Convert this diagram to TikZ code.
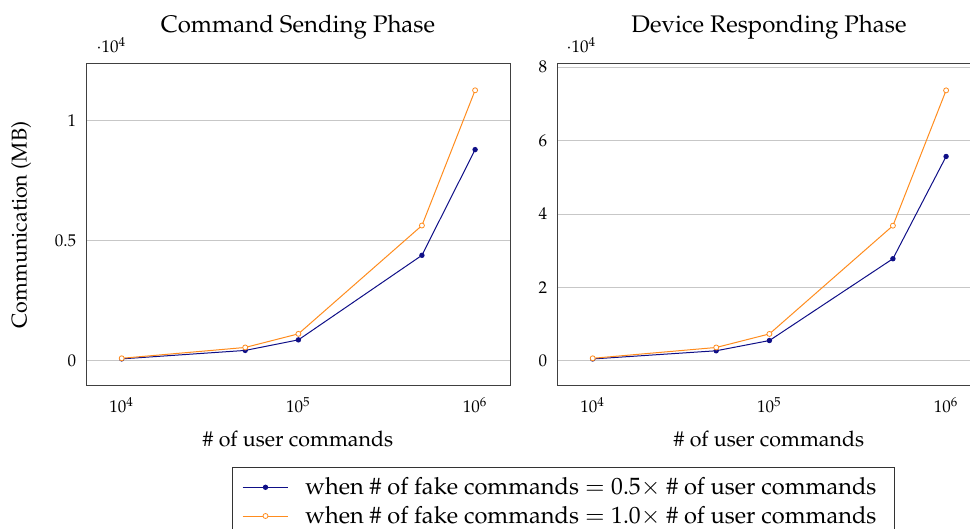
\documentclass[tikz,border=0pt]{standalone}
\usepackage[T1]{fontenc}
\usepackage{mathpazo}
\usepackage{xcolor}
\usepackage{tikz}
\usetikzlibrary{positioning,calc}
\definecolor{navyline}{RGB}{15,15,135}
\definecolor{orangeline}{RGB}{255,140,30}

\begin{document}
\begin{tikzpicture}[x=0.5pt,y=-0.5pt,
    frame/.style={draw=black!75,line width=0.6pt},
    gridln/.style={black!22,line width=0.5pt},
    tick/.style={font=\fontsize{8.5}{10}\selectfont,inner sep=1pt},
    ttl/.style={font=\fontsize{12}{14}\selectfont,inner sep=0pt},
    lbl/.style={font=\fontsize{10.7}{13}\selectfont,inner sep=0pt},
    leg/.style={font=\fontsize{11.8}{14}\selectfont,inner sep=0pt},
    halfser/.style={navyline,line width=0.5pt},
    fullser/.style={orangeline,line width=0.5pt},
    halfdot/.style={circle,fill=navyline,inner sep=0pt,minimum size=2.7pt},
    fulldot/.style={circle,draw=orangeline,fill=white,line width=0.4pt,inner sep=0pt,minimum size=2.5pt}]
\useasboundingbox (0,0) rectangle (970,529);
% titles and axis labels
\node[ttl,anchor=base] (tsend) at (298,32.3) {Command Sending Phase};
\node[ttl,anchor=base] (tresp) at (769,32.3) {Device Responding Phase};
\node[lbl,anchor=base] (xsend) at (298,446.7) {\# of user commands};
\node[lbl,anchor=base] (xresp) at (769,446.7) {\# of user commands};
\node[lbl,rotate=90] (ylab) at (21,225) {Communication (MB)};
\node[tick,anchor=base west] (msend) at (94,53) {$\cdot 10^{4}$};
\node[tick,anchor=base west] (mresp) at (564,53) {$\cdot 10^{4}$};
% left plot: command sending
\begin{scope}[shift={(121.7,361)},x=88.35pt,y=120.1pt]
  \foreach \v/\t in {0/0,0.5/0.5,1/1} {
    \draw[gridln] (-0.2,\v) -- (2.2,\v);
    \node[tick,anchor=east] (sy\t) at (-0.245,\v) {\t};
  }
  \foreach \e [count=\k from 0] in {4,5,6}
    \node[tick,anchor=base] (sx\e) at (\k,-0.216) {$10^{\e}$};
  \foreach \i/\lx/\hv/\fv in {1/0/0.0088/0.0113,2/0.699/0.044/0.0564,3/1/0.088/0.113,4/1.699/0.44/0.564,5/2/0.88/1.127} {
    \coordinate (sh\i) at (\lx,\hv);
    \coordinate (sf\i) at (\lx,\fv);
  }
  \draw[frame] (-0.2,-0.1034) rectangle (2.2,1.2388);
  \draw[halfser] (sh1) -- (sh2) -- (sh3) -- (sh4) -- (sh5);
  \foreach \i in {1,...,5} \node[halfdot] (shm\i) at (sh\i) {};
  \draw[fullser] (sf1) -- (sf2) -- (sf3) -- (sf4) -- (sf5);
  \foreach \i in {1,...,5} \node[fulldot] (sfm\i) at (sf\i) {};
\end{scope}
% right plot: device responding
\begin{scope}[shift={(592.7,361)},x=88.35pt,y=18.36pt]
  \foreach \v in {0,2,4,6,8} {
    \draw[gridln] (-0.2,\v) -- (2.2,\v);
    \node[tick,anchor=east] (ry\v) at (-0.245,\v) {\v};
  }
  \foreach \e [count=\k from 0] in {4,5,6}
    \node[tick,anchor=base] (rx\e) at (\k,-1.415) {$10^{\e}$};
  \foreach \i/\lx/\hv/\fv in {1/0/0.0557/0.0737,2/0.699/0.2785/0.3685,3/1/0.557/0.737,4/1.699/2.785/3.685,5/2/5.57/7.37} {
    \coordinate (rh\i) at (\lx,\hv);
    \coordinate (rf\i) at (\lx,\fv);
  }
  \draw[frame] (-0.2,-0.676) rectangle (2.2,8.10);
  \draw[halfser] (rh1) -- (rh2) -- (rh3) -- (rh4) -- (rh5);
  \foreach \i in {1,...,5} \node[halfdot] (rhm\i) at (rh\i) {};
  \draw[fullser] (rf1) -- (rf2) -- (rf3) -- (rf4) -- (rf5);
  \foreach \i in {1,...,5} \node[fulldot] (rfm\i) at (rf\i) {};
\end{scope}
% legend
\draw[draw=black!80,line width=0.5pt] (232.7,467.7) rectangle (894.3,540);
\coordinate (lh0) at (242.7,487.3);
\coordinate (lh1) at (288.3,487.3);
\coordinate (lf0) at (242.7,516);
\coordinate (lf1) at (288.3,516);
\draw[halfser] (lh0) -- (lh1);
\node[halfdot] (lhm) at ($(lh0)!0.5!(lh1)$) {};
\draw[fullser] (lf0) -- (lf1);
\node[fulldot] (lfm) at ($(lf0)!0.5!(lf1)$) {};
\node[leg,anchor=west] (lht) at (305,487.3) {when \# of fake commands $= 0.5\times$ \# of user commands};
\node[leg,anchor=west] (lft) at (305,516) {when \# of fake commands $= 1.0\times$ \# of user commands};
\end{tikzpicture}
\end{document}
